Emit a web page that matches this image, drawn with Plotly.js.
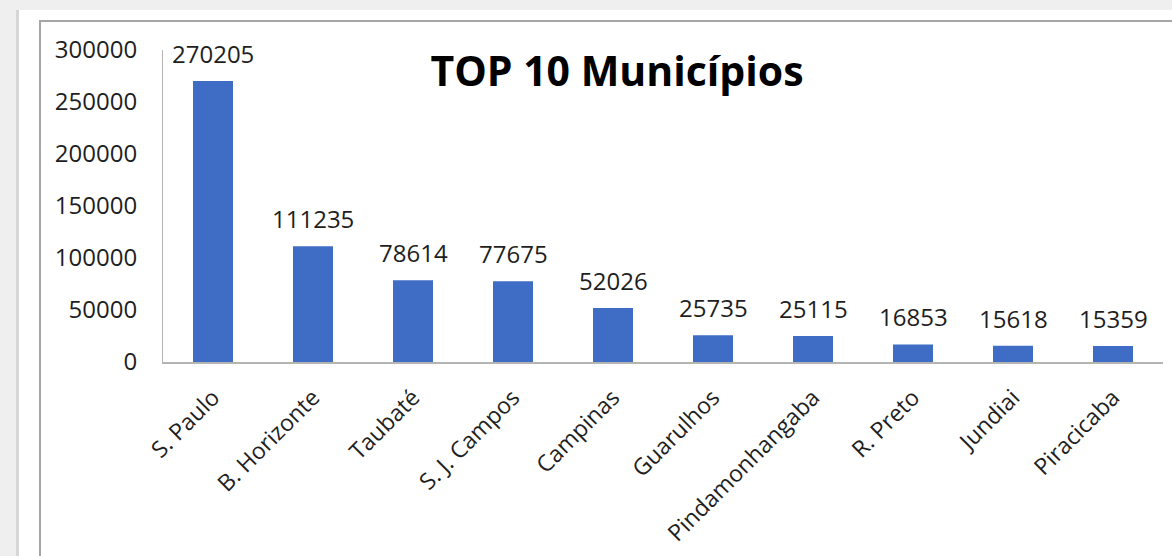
<!DOCTYPE html>
<html>
<head>
<meta charset="utf-8">
<script src="https://cdn.plot.ly/plotly-3.0.1.min.js"></script>
<style>
  html, body { margin:0; padding:0; background:#efefef; width:1172px; height:556px; overflow:hidden; }
  #panel { position:absolute; left:16px; top:10px; width:1156px; height:546px; background:#fff; border-left:3px solid #d6d6d6; box-sizing:border-box; }
  #frame { position:absolute; left:39px; top:20px; width:1133px; height:536px; border-left:2px solid #a6a6a6; border-top:2px solid #a6a6a6; box-sizing:border-box; }
  #chart { position:absolute; left:41px; top:22px; width:1131px; height:534px; }
</style>
</head>
<body>
<div id="panel"></div>
<div id="frame"></div>
<div id="chart"></div>
<script>
const categories = ["S. Paulo", "B. Horizonte", "Taubaté", "S. J. Campos", "Campinas", "Guarulhos", "Pindamonhangaba", "R. Preto", "Jundiai", "Piracicaba"];
const values = [270205, 111235, 78614, 77675, 52026, 25735, 25115, 16853, 15618, 15359];
const yTicks = [0, 50000, 100000, 150000, 200000, 250000, 300000];
const titleText = "TOP 10 Municípios";

const FONT = "Open Sans, Noto Sans, sans-serif";

const trace = {
  type: "bar",
  x: categories,
  y: values,
  marker: { color: "#3f6dc6", line: { width: 0 } },
  hoverinfo: "x+y"
};

const annotations = categories.map((c, i) => ({
  x: c, y: values[i], xref: "x", yref: "y",
  text: String(values[i]),
  showarrow: false, yanchor: "bottom", yshift: 9,
  font: { family: FONT, size: 24, color: "#1e1e1e" }
}));

const layout = {
  width: 1131, height: 534,
  margin: { l: 122, r: 9, t: 28, b: 194 },
  paper_bgcolor: "rgba(0,0,0,0)",
  plot_bgcolor: "rgba(0,0,0,0)",
  bargap: 0.6,
  showlegend: false,
  title: {
    text: "<b>" + titleText + "</b>",
    x: 576 / 1131, xref: "container", xanchor: "center",
    y: 1 - 50 / 534, yref: "container", yanchor: "middle",
    font: { family: FONT, size: 41, color: "#000" }
  },
  xaxis: {
    type: "category",
    tickangle: -45,
    showline: true, linecolor: "#b4b4b4", linewidth: 2,
    ticks: "", showgrid: false, zeroline: false,
    ticklabelstandoff: 11,
    ticklabelshift: 0,
    tickfont: { family: FONT, size: 23, color: "#1e1e1e" }
  },
  yaxis: {
    range: [0, 300000],
    tickvals: yTicks,
    ticktext: yTicks.map(String),
    showline: true, linecolor: "#b4b4b4", linewidth: 1,
    ticks: "", showgrid: false, zeroline: false,
    ticklabelstandoff: 20,
    tickfont: { family: FONT, size: 24, color: "#1e1e1e" }
  },
  annotations: annotations
};

Plotly.newPlot("chart", [trace], layout, { displayModeBar: false, staticPlot: true });
</script>
</body>
</html>
